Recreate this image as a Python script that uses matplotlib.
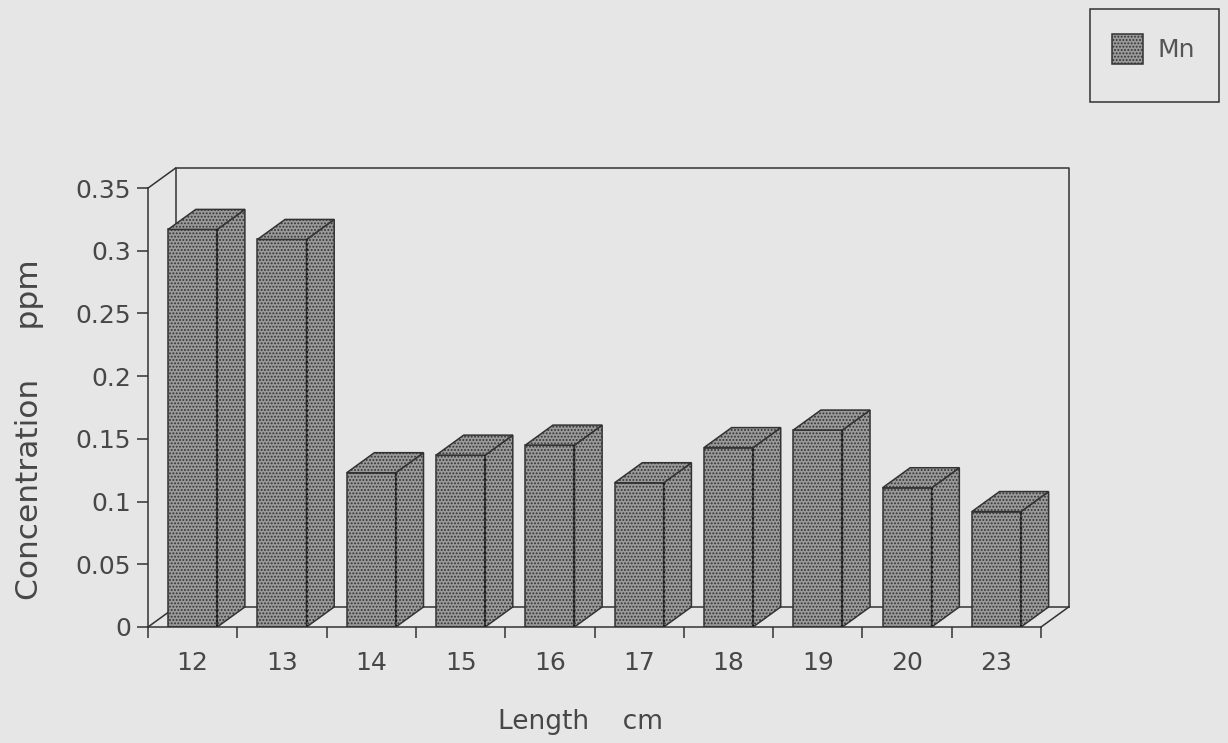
import numpy as np
import matplotlib
matplotlib.use('Agg')
import matplotlib.pyplot as plt
from matplotlib.patches import Polygon, Rectangle

# data
lengths = ['12', '13', '14', '15', '16', '17', '18', '19', '20', '23']
mn_ppm = [0.317, 0.309, 0.123, 0.137, 0.145, 0.115, 0.143, 0.157, 0.111, 0.092]
yticks = [0, 0.05, 0.1, 0.15, 0.2, 0.25, 0.3, 0.35]
ytick_labels = ['0', '0.05', '0.1', '0.15', '0.2', '0.25', '0.3', '0.35']

bg = '#e6e6e6'
face = '#9a9a9a'
dark = '#333333'
txt = '#474747'
plt.rcParams['font.family'] = ['DejaVu Sans']
plt.rcParams['hatch.color'] = '#2e2e2e'
plt.rcParams['hatch.linewidth'] = 0.9

W, H = 1228, 743
F = plt.figure(figsize=(W/100, H/100), dpi=100)
F.patch.set_facecolor(bg)

# axes placed so that x=0 is the front corner, y=0 the floor front edge
ax = F.add_axes([148/W, 116/H, 937.7/W, 464/H])
ax.set_facecolor('none')
ax.set_xlim(0, 10.5)
ax.set_ylim(0, 0.37)

# depth offset of the pseudo 3d box (in data units)
dx = 0.31
dy = 0.016
top = 0.35
n = len(lengths)

lw = 1.1
# back wall and floor
ax.plot([dx, dx, n + dx, n + dx], [dy, top + dy, top + dy, dy], color=dark, lw=lw, clip_on=False)
ax.plot([dx, n + dx], [dy, dy], color=dark, lw=lw, clip_on=False)
ax.plot([0, dx], [0, dy], color=dark, lw=lw, clip_on=False)
ax.plot([n, n + dx], [0, dy], color=dark, lw=lw, clip_on=False)
ax.plot([0, dx], [top, top + dy], color=dark, lw=lw, clip_on=False)

# bars: front face via ax.bar, top and side faces offset by depth
x = np.arange(n) + 0.5
w = 0.55
bars = ax.bar(x, mn_ppm, width=w, facecolor=face, edgecolor=dark, hatch='.....',
              linewidth=lw, label='Mn', zorder=3)
for xi, v in zip(x, mn_ppm):
    l, r = xi - w/2, xi + w/2
    topface = Polygon([(l, v), (l + dx, v + dy), (r + dx, v + dy), (r, v)], closed=True,
                      facecolor=face, edgecolor=dark, hatch='.....', lw=lw, zorder=3)
    side = Polygon([(r, 0), (r, v), (r + dx, v + dy), (r + dx, dy)], closed=True,
                   facecolor=face, edgecolor=dark, hatch='.....', lw=lw, zorder=3)
    ax.add_patch(side)
    ax.add_patch(topface)
    ax.plot([r, r], [0, v], color='#1e1e1e', lw=1.6, ls=(0, (1, 1.2)), zorder=4)

# axes
for s in ['top', 'right']:
    ax.spines[s].set_visible(False)
ax.spines['left'].set_bounds(0, top)
ax.spines['bottom'].set_bounds(0, n)
for s in ['left', 'bottom']:
    ax.spines[s].set_color(dark)
    ax.spines[s].set_linewidth(lw)
    ax.spines[s].set_zorder(5)

ax.set_yticks(yticks)
ax.set_yticklabels(ytick_labels)
ax.set_xticks(np.arange(n + 1))
ax.set_xticklabels([])
ax.set_xticks(x, minor=True)
ax.set_xticklabels(lengths, minor=True)
ax.tick_params(axis='y', length=8, width=lw, color=dark, labelsize=18, labelcolor=txt, pad=4)
ax.tick_params(axis='x', which='major', length=8, width=lw, color=dark)
ax.tick_params(axis='x', which='minor', length=0, labelsize=18, labelcolor=txt, pad=17)

F.text(30/W, 1 - 430/H, 'Concentration     ppm', rotation=90, ha='center', va='center',
       fontsize=22.5, color=txt)
F.text(580/W, 1 - 722/H, 'Length    cm', ha='center', va='center', fontsize=19, color=txt)

# legend: frame drawn as a box behind, legend itself frameless
F.patches.append(Rectangle((1090/W, 1 - 102/H), 129/W, 93/H, transform=F.transFigure,
                           facecolor='none', edgecolor=dark, lw=1.1, zorder=-1))
lg = ax.legend(handles=[bars], loc='center left', bbox_to_anchor=(1112/W, 1 - 49/H),
               bbox_transform=F.transFigure, fontsize=18, frameon=False,
               borderpad=0, handlelength=1.24, handleheight=1.45, handletextpad=0.6,
               borderaxespad=0)
for t in lg.get_texts():
    t.set_color('#555555')

F.savefig('out.png', dpi=100, facecolor=bg)
